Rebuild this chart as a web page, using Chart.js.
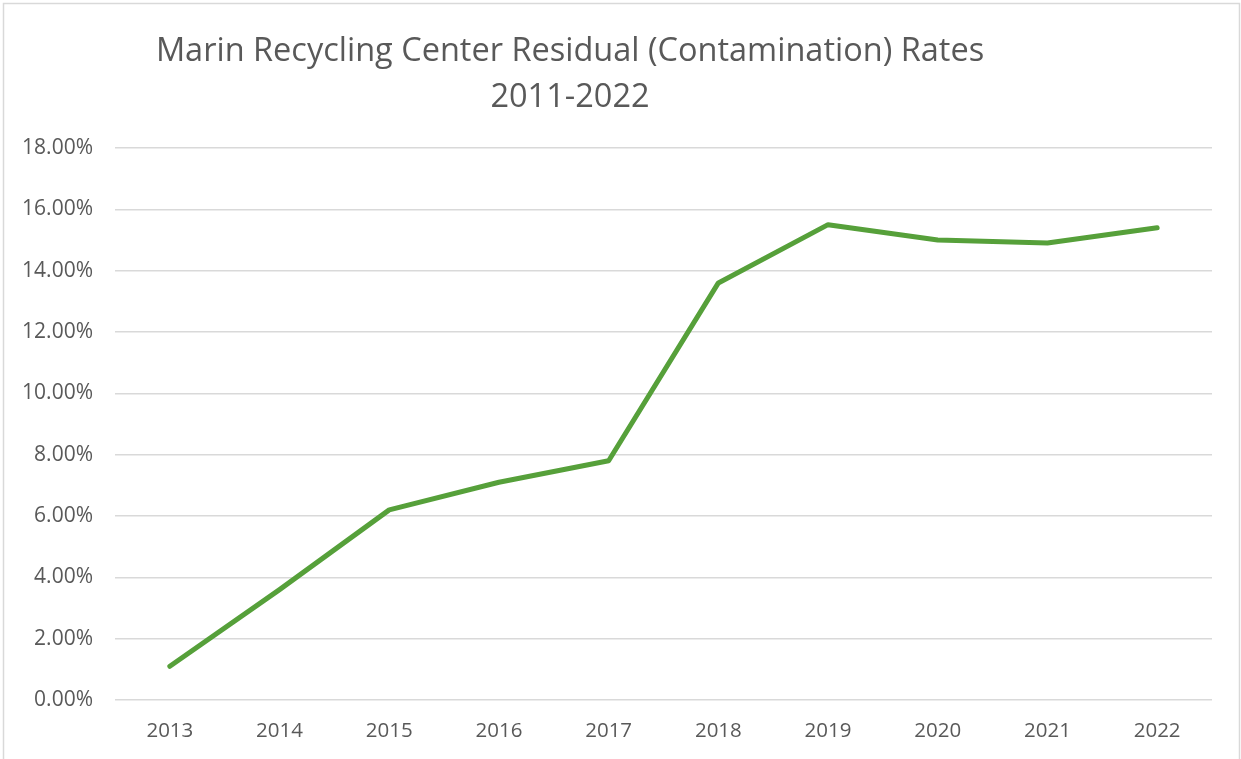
<!DOCTYPE html>
<html>
<head>
<meta charset="utf-8">
<script src="https://cdn.jsdelivr.net/npm/chart.js@4.4.1/dist/chart.umd.min.js"></script>
<style>
  html, body { margin: 0; padding: 0; background: #ffffff; }
  #wrap { position: relative; width: 1241px; height: 759px; }
</style>
</head>
<body>
<div id="wrap"><canvas id="rateChart" width="1241" height="759"></canvas></div>
<script>
// chart data
const years = ['2013', '2014', '2015', '2016', '2017', '2018', '2019', '2020', '2021', '2022'];
const residualRates = [1.1, 3.6, 6.2, 7.1, 7.8, 13.6, 15.5, 15.0, 14.9, 15.4];
const titleLines = ['Marin Recycling Center Residual (Contamination) Rates', '2011-2022'];

const lineColor = '#56a03a';
const textColor = '#595959';
const gridColor = '#d9d9d9';
const fontFamily = "'Open Sans', sans-serif";

// border around the chart and the two-line title
const framePlugin = {
  id: 'frame',
  beforeDraw(chart) {
    const ctx = chart.ctx;
    ctx.save();
    ctx.strokeStyle = gridColor;
    ctx.lineWidth = 1.5;
    ctx.strokeRect(3.5, 3.5, 1236, 780);
    ctx.restore();
  },
  afterDraw(chart) {
    const ctx = chart.ctx;
    ctx.save();
    ctx.fillStyle = textColor;
    ctx.font = "32.5px " + fontFamily;
    ctx.textAlign = 'center';
    ctx.textBaseline = 'alphabetic';
    ctx.fillText(titleLines[0], 570, 61);
    ctx.fillText(titleLines[1], 570, 107);
    ctx.restore();
  }
};

const ctx = document.getElementById('rateChart').getContext('2d');
const rateChart = new Chart(ctx, {
  type: 'line',
  data: {
    labels: years,
    datasets: [{
      label: 'Residual rate',
      data: residualRates,
      borderColor: lineColor,
      backgroundColor: lineColor,
      borderWidth: 5,
      borderCapStyle: 'round',
      borderJoinStyle: 'round',
      pointRadius: 0,
      pointHoverRadius: 0,
      tension: 0
    }]
  },
  options: {
    responsive: false,
    animation: false,
    events: [],
    layout: { padding: { top: 148, right: 29, bottom: 0, left: 0 } },
    plugins: {
      legend: { display: false },
      title: { display: false },
      tooltip: { enabled: false }
    },
    scales: {
      x: {
        offset: true,
        grid: { display: false, drawTicks: false },
        border: { display: false },
        ticks: { color: textColor, font: { family: fontFamily, size: 20.5 }, padding: 19, maxRotation: 0 },
        afterFit(scale) { scale.height = 59; }
      },
      y: {
        min: 0,
        max: 18,
        grid: { color: gridColor, lineWidth: 1.5, drawTicks: false },
        border: { display: false },
        ticks: {
          stepSize: 2,
          color: textColor,
          font: { family: fontFamily, size: 21 },
          padding: 22,
          callback: (v) => v.toFixed(2) + '%'
        },
        afterFit(scale) { scale.width = 115; }
      }
    }
  },
  plugins: [framePlugin]
});
</script>
</body>
</html>
